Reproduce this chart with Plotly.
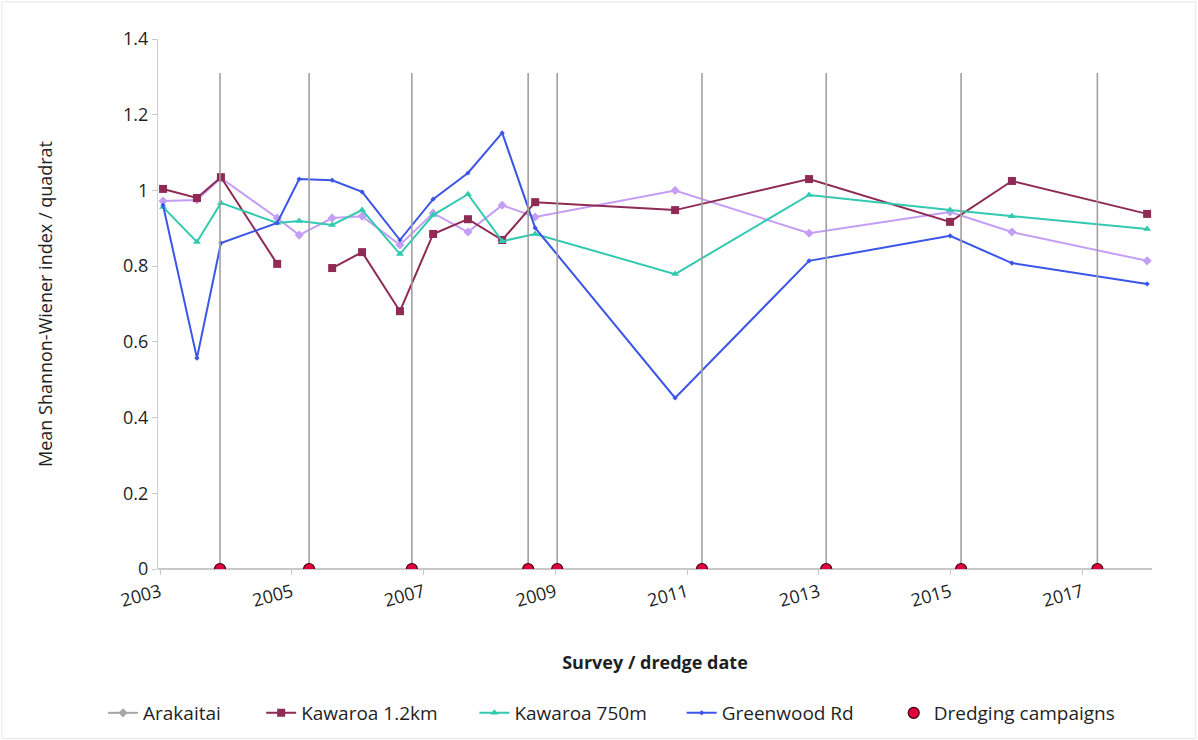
import plotly.graph_objects as go

# Survey dates shared by all monitoring sites
survey_dates = [
    "2003-01-17", "2003-07-24", "2003-12-04", "2004-10-11", "2005-02-10",
    "2005-08-12", "2006-01-25", "2006-08-23", "2007-02-23", "2007-09-04",
    "2008-03-12", "2008-09-11", "2010-10-27", "2012-11-08", "2014-12-30",
    "2015-12-08", "2017-12-27",
]

# Mean Shannon-Wiener index per quadrat at each site
arakaitai = [0.972, 0.975, 1.033, 0.927, 0.882, 0.927, 0.932, 0.856, 0.940,
             0.890, 0.961, 0.930, 1.000, 0.887, 0.943, 0.890, 0.814]
kawaroa_12km = [1.004, 0.980, 1.035, 0.806, None, 0.795, 0.837, 0.681, 0.885,
                0.924, 0.869, 0.969, 0.948, 1.030, 0.917, 1.025, 0.938]
kawaroa_750m = [0.956, 0.864, 0.967, 0.914, 0.919, 0.909, 0.948, 0.832, 0.935,
                0.990, 0.866, 0.885, 0.779, 0.988, 0.948, 0.932, 0.898]
greenwood_rd = [0.961, 0.557, 0.861, 0.914, 1.030, 1.027, 0.996, 0.869, 0.977,
                1.046, 1.152, 0.901, 0.452, 0.814, 0.880, 0.808, 0.753]

# Dredging campaigns
dredge_dates = [
    "2003-11-29", "2005-04-06", "2006-10-28", "2008-08-03", "2009-01-11",
    "2011-03-25", "2013-02-11", "2015-03-01", "2017-03-26",
]
dredge_level = [0] * len(dredge_dates)
dredge_line_height = [1.31] * len(dredge_dates)

FONT = "Open Sans"
TEXT = "#1f1f1f"
FS = 18
LEGEND_FS = 19

# Horizontal anchor (container fraction) of each legend entry along the bottom row
legend_slots = [0.086, 0.218, 0.396, 0.569, 0.746]

fig = go.Figure()

series = [
    ("Arakaitai", arakaitai, "#c49ef5", "diamond", 7, "#a6a6a6"),
    ("Kawaroa 1.2km", kawaroa_12km, "#8e2a54", "square", 8, None),
    ("Kawaroa 750m", kawaroa_750m, "#33c9b0", "triangle-up", 7, None),
    ("Greenwood Rd", greenwood_rd, "#3b55e6", "diamond", 4, None),
]

legend_ids = ["legend", "legend2", "legend3", "legend4", "legend5"]

for i, (name, values, color, symbol, size, legend_color) in enumerate(series):
    fig.add_trace(go.Scatter(
        x=survey_dates, y=values, name=name, mode="lines+markers",
        line=dict(color=color, width=2),
        marker=dict(symbol=symbol, size=size, color=color),
        connectgaps=False,
        showlegend=legend_color is None,
        legendgroup=name, legend=legend_ids[i],
    ))
    if legend_color is not None:
        fig.add_trace(go.Scatter(
            x=[None], y=[None], name=name, mode="lines+markers",
            line=dict(color=legend_color, width=2),
            marker=dict(symbol=symbol, size=size, color=legend_color),
            legendgroup=name, legend=legend_ids[i],
        ))

fig.add_trace(go.Scatter(
    x=dredge_dates, y=dredge_level, name="Dredging campaigns", mode="markers",
    marker=dict(symbol="circle", size=11, color="#e0003c",
                line=dict(color="#3a0010", width=1.2)),
    error_y=dict(type="data", symmetric=False, array=dredge_line_height,
                 arrayminus=[0] * len(dredge_dates),
                 color="#a0a0a0", thickness=1.6, width=0),
    legend=legend_ids[4],
))

legend_style = dict(orientation="h", xref="container", yref="container",
                    y=0.0365, yanchor="middle", xanchor="left",
                    font=dict(size=LEGEND_FS, color=TEXT), bgcolor="rgba(0,0,0,0)",
                    itemwidth=30)

fig.update_layout(
    width=1198, height=740,
    margin=dict(l=158, r=46, t=39, b=171, autoexpand=False),
    paper_bgcolor="white", plot_bgcolor="white",
    font=dict(family=FONT, size=FS, color=TEXT),
    showlegend=True,
    xaxis=dict(
        type="date",
        range=["2002-12-20", "2018-01-23"],
        tick0="2003-01-01", dtick="M24", tickformat="%Y",
        tickangle=-15, ticks="outside", ticklen=5, tickcolor="#c8c8c8",
        showline=False, showgrid=False, zeroline=False, automargin=False,
        tickfont=dict(size=FS, color=TEXT),
        title=dict(text="<b>Survey / dredge date</b>", standoff=45,
                   font=dict(size=FS, color=TEXT)),
    ),
    yaxis=dict(
        range=[0, 1.4], dtick=0.2, tickformat="~g",
        ticks="outside", ticklen=5, tickcolor="#c8c8c8",
        showline=True, linecolor="#d0d0d0", linewidth=1, automargin=False,
        showgrid=False, zeroline=True, zerolinecolor="#c8c8c8", zerolinewidth=1.5,
        tickfont=dict(size=FS, color=TEXT),
        title=dict(text="Mean Shannon-Wiener index / quadrat", standoff=65,
                   font=dict(size=FS, color=TEXT)),
    ),
    shapes=[dict(type="rect", xref="paper", yref="paper",
                 x0=-0.157, x1=1.044, y0=-0.320, y1=1.070,
                 line=dict(color="#e6e6e6", width=1), layer="below")],
)

for lid, xpos in zip(legend_ids, legend_slots):
    fig.update_layout({lid: dict(legend_style, x=xpos)})

fig.write_html("out.html")
